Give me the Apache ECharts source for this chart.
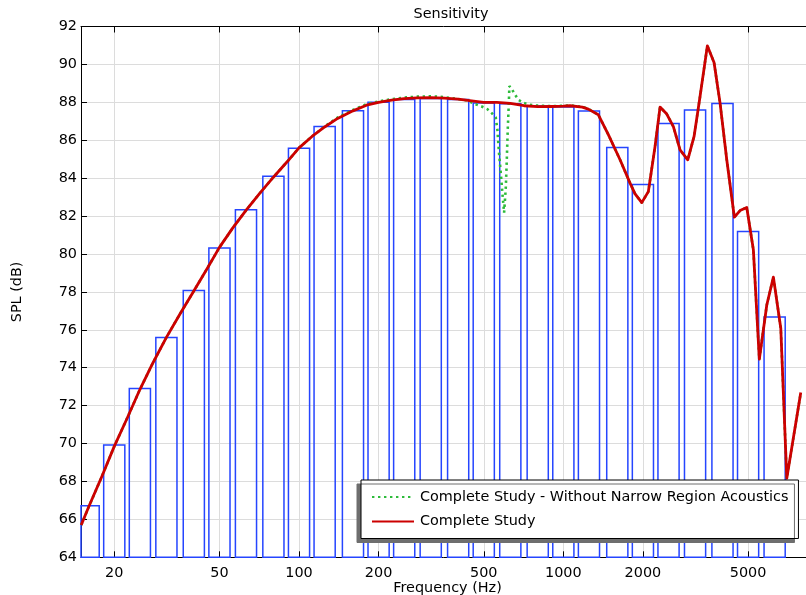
<!DOCTYPE html>
<html>
<head>
<meta charset="utf-8">
<script src="https://cdn.jsdelivr.net/npm/echarts@6/dist/echarts.min.js"></script>
<style>html,body{margin:0;padding:0;background:#fff;}#c{width:806px;height:595px;}</style>
</head>
<body>
<div id="c"></div>
<script>
// Third-octave band levels (bars)
const bandCenters = [16, 20, 25, 31.5, 40, 50, 63, 80, 100, 125, 160, 200, 250, 315, 400, 500, 630, 800, 1000, 1250, 1600, 2000, 2500, 3150, 4000, 5000, 6300];
const bandSPL = [66.72, 69.93, 72.9, 75.6, 78.07, 80.32, 82.33, 84.1, 85.58, 86.72, 87.55, 88.0, 88.15, 88.2, 88.15, 87.97, 87.93, 87.8, 87.75, 87.54, 85.62, 83.66, 86.88, 87.6, 87.94, 81.18, 76.68];

// Complete Study (red)
const fullFreq = [15, 16, 18, 20, 22.4, 25, 28, 31.5, 35.5, 40, 45, 50, 56, 63, 71, 80, 90, 100, 112, 125, 140, 160, 180, 200, 224, 250, 280, 315, 355, 400, 450, 500, 560, 630, 710, 800, 900, 1000, 1060, 1180, 1243, 1357, 1480, 1639, 1788, 1868, 1980, 2097, 2223, 2322, 2462, 2608, 2764, 2956, 3123, 3290, 3506, 3717, 3917, 4152, 4436, 4662, 4942, 5235, 5514, 5884, 6232, 6647, 7004, 7912];
const fullSPL = [65.7, 66.65, 68.3, 69.85, 71.35, 72.85, 74.25, 75.6, 76.85, 78.05, 79.25, 80.35, 81.35, 82.3, 83.2, 84.05, 84.85, 85.6, 86.2, 86.7, 87.15, 87.55, 87.85, 88.0, 88.12, 88.2, 88.24, 88.25, 88.22, 88.17, 88.08, 88.0, 88.0, 87.95, 87.82, 87.77, 87.78, 87.8, 87.82, 87.75, 87.64, 87.34, 86.3, 84.97, 83.74, 83.17, 82.71, 83.29, 85.67, 87.75, 87.38, 86.72, 85.49, 84.97, 86.2, 88.31, 90.98, 90.1, 87.96, 84.97, 81.94, 82.29, 82.45, 80.22, 74.45, 77.31, 78.78, 76.08, 68.17, 72.69];

// Complete Study - Without Narrow Region Acoustics (green dotted)
const noNarrowFreq = [15, 16, 18, 20, 22.4, 25, 28, 31.5, 35.5, 40, 45, 50, 56, 63, 71, 80, 90, 100, 112, 125, 140, 160, 180, 200, 224, 250, 280, 318, 357, 401, 431, 464, 491, 516, 536, 555, 563, 571, 580, 588, 597, 606, 611, 616, 622, 625, 638, 657, 676, 710, 748, 793, 900, 1000, 1060, 1180, 1243, 1357, 1480, 1639, 1788, 1868, 1980, 2097, 2223, 2322, 2462, 2608, 2764, 2956, 3123, 3290, 3506, 3717, 3917, 4152, 4436, 4662, 4942, 5235, 5514, 5884, 6232, 6647, 7004, 7912];
const noNarrowSPL = [65.7, 66.65, 68.3, 69.85, 71.35, 72.85, 74.25, 75.6, 76.85, 78.05, 79.25, 80.35, 81.35, 82.3, 83.2, 84.05, 84.85, 85.6, 86.2, 86.72, 87.2, 87.6, 87.9, 88.05, 88.17, 88.25, 88.3, 88.32, 88.27, 88.17, 88.1, 87.9, 87.78, 87.64, 87.43, 87.2, 86.55, 85.32, 84.26, 83.21, 82.18, 83.56, 84.97, 86.55, 87.96, 88.86, 88.7, 88.4, 88.13, 87.96, 87.87, 87.83, 87.8, 87.82, 87.84, 87.77, 87.66, 87.34, 86.3, 84.97, 83.74, 83.17, 82.71, 83.29, 85.67, 87.75, 87.38, 86.72, 85.49, 84.97, 86.2, 88.31, 90.98, 90.1, 87.96, 84.97, 81.94, 82.29, 82.45, 80.22, 74.45, 77.31, 78.78, 76.08, 68.17, 72.69];

// Axis ticks
const xTickHz = [20, 50, 100, 200, 500, 1000, 2000, 5000];
const xMinHz = 14.97, xMaxHz = 8280;
const yMin = 64, yMax = 92, yStep = 2;

const lg = v => Math.log10(v);
const xTicks = xTickHz.map(lg);
const barHalf = 0.04; // half width of bar in decades (style)
const FONT = 'DejaVu Sans';
const FS = 14.4;

const chart = echarts.init(document.getElementById('c'), null, {renderer: 'canvas'});

const xCommon = {
  type: 'value', min: lg(xMinHz), max: lg(xMaxHz),
  axisLine: {show: true, lineStyle: {color: '#000', width: 1}},
  axisTick: {show: true, inside: true, length: 6, customValues: xTicks, lineStyle: {color: '#000'}},
};

chart.setOption({
  animation: false,
  backgroundColor: '#fff',
  title: {
    text: 'Sensitivity', left: 446, top: 2, textAlign: 'center',
    textStyle: {fontFamily: FONT, fontSize: FS, fontWeight: 'normal', color: '#000'}
  },
  grid: {left: 81, right: 0, top: 26.5, bottom: 37.7, containLabel: false, outerBoundsMode: 'none'},
  xAxis: [
    Object.assign({}, xCommon, {
      position: 'bottom',
      name: 'Frequency (Hz)', nameLocation: 'middle', nameGap: 23.5, nameMoveOverlap: false,
      nameTextStyle: {fontFamily: FONT, fontSize: FS, color: '#000', padding: [0, 0, 0, 8]},
      axisLabel: {show: true, customValues: xTicks, margin: 9, fontFamily: FONT, fontSize: FS, color: '#000',
        formatter: v => String(Math.round(Math.pow(10, v)))},
      splitLine: {show: true, lineStyle: {color: '#dcdcdc', width: 1}}
    }),
    Object.assign({}, xCommon, {
      position: 'top',
      axisLabel: {show: false},
      splitLine: {show: false}
    })
  ],
  yAxis: {
    type: 'value', min: yMin, max: yMax, interval: yStep,
    name: 'SPL (dB)', nameLocation: 'middle', nameGap: 57, nameRotate: 90, nameMoveOverlap: false,
    nameTextStyle: {fontFamily: FONT, fontSize: FS, color: '#000'},
    axisLine: {show: true, lineStyle: {color: '#000'}},
    axisTick: {show: true, inside: true, length: 6, lineStyle: {color: '#000'}},
    axisLabel: {margin: 4, fontFamily: FONT, fontSize: FS, color: '#000'},
    splitLine: {show: true, lineStyle: {color: '#dcdcdc', width: 1}}
  },
  legend: {
    data: ['Complete Study - Without Narrow Region Acoustics', 'Complete Study'],
    orient: 'vertical', left: 361, top: 480,
    padding: [10, 10, 10, 10], itemGap: 10.5, itemWidth: 42, itemHeight: 14,
    backgroundColor: '#fff', borderColor: '#000', borderWidth: 1, borderRadius: 0,
    shadowColor: 'rgba(110,110,110,1)', shadowBlur: 0, shadowOffsetX: -4, shadowOffsetY: 4,
    selectedMode: false,
    itemStyle: {opacity: 0},
    textStyle: {fontFamily: FONT, fontSize: FS, color: '#000', padding: [0, 0, 0, 1]}
  },
  series: [
    {
      type: 'custom', name: 'bands', silent: true, xAxisIndex: 0,
      data: bandCenters.map((f, i) => [lg(f), bandSPL[i]]),
      renderItem: (params, api) => {
        const c = api.value(0), v = api.value(1);
        const p0 = api.coord([c - barHalf, v]);
        const p1 = api.coord([c + barHalf, yMin]);
        const cs = params.coordSys;
        const x0 = Math.max(p0[0], cs.x), x1 = Math.min(p1[0], cs.x + cs.width);
        return {type: 'rect', shape: {x: x0, y: p0[1], width: x1 - x0, height: p1[1] - p0[1]},
          style: {fill: 'none', stroke: '#2545ff', lineWidth: 1.5}};
      }
    },
    {
      type: 'line', name: 'Complete Study - Without Narrow Region Acoustics',
      data: noNarrowFreq.map((f, i) => [lg(f), noNarrowSPL[i]]),
      symbol: 'none', smooth: false, clip: true,
      lineStyle: {color: '#2dbb3a', width: 2.6, type: [2.4, 3.6], cap: 'butt'},
      itemStyle: {color: '#2dbb3a'}
    },
    {
      type: 'line', name: 'Complete Study',
      data: fullFreq.map((f, i) => [lg(f), fullSPL[i]]),
      symbol: 'none', smooth: false, clip: true,
      lineStyle: {color: '#cc0000', width: 2.8, join: 'round'},
      itemStyle: {color: '#cc0000'}
    }
  ]
});
</script>
</body>
</html>
